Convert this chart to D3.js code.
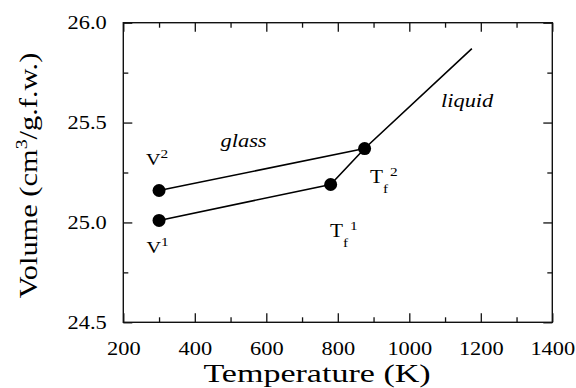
<!DOCTYPE html>
<html>
<head>
<meta charset="utf-8">
<script src="https://cdn.jsdelivr.net/npm/d3@7"></script>
<style>
  body { margin: 0; background: #fff; }
  svg { display: block; }
</style>
</head>
<body>
<svg width="576" height="388"></svg>
<script>
// values
const xTicks = [200, 400, 600, 800, 1000, 1200, 1400];
const xMinor = [300, 500, 700, 900, 1100, 1300];
const yTicks = [24.5, 25.0, 25.5, 26.0];
const yMinor = [24.75, 25.25, 25.75];

// upper glass line (V2 -> Tf2)
const tempUpper = [300, 875];
const volUpper = [25.16, 25.37];
// lower glass line + liquid line (V1 -> Tf1 -> Tf2 -> end)
const tempLower = [300, 780, 875, 1175];
const volLower = [25.01, 25.19, 25.37, 25.87];
// dots
const tempDots = [300, 300, 780, 875];
const volDots = [25.01, 25.16, 25.19, 25.37];

const FONT = "'Liberation Serif', 'Times New Roman', Times, serif";
const svg = d3.select("svg");
const pl = 123.3, pr = 552.3, pt = 22.7, pb = 322.3;
const SX = 1.18; // the original lettering is wider than Times

const x = d3.scaleLinear().domain([200, 1400]).range([pl, pr]);
const y = d3.scaleLinear().domain([24.5, 26.0]).range([pb, pt]);

// axes, ticks pointing in
const tickFont = (g) => g.selectAll("text")
    .attr("font-size", 19)
    .attr("font-family", FONT)
    .attr("fill", "#000")
    .attr("transform", `scale(${SX},1)`);

svg.append("g").attr("transform", `translate(0,${pb})`)
    .call(d3.axisBottom(x).tickValues(xTicks).tickSize(-9).tickPadding(19).tickFormat(d3.format("d")))
    .call(tickFont);
svg.append("g").attr("transform", `translate(0,${pb})`)
    .call(d3.axisBottom(x).tickValues(xMinor).tickSize(-5).tickFormat(""));
svg.append("g").attr("transform", `translate(0,${pt})`)
    .call(d3.axisTop(x).tickValues(xTicks).tickSize(-9).tickFormat(""));
svg.append("g").attr("transform", `translate(0,${pt})`)
    .call(d3.axisTop(x).tickValues(xMinor).tickSize(-5).tickFormat(""));

svg.append("g").attr("transform", `translate(${pl},0)`)
    .call(d3.axisLeft(y).tickValues(yTicks).tickSize(-9).tickPadding(14).tickFormat(d3.format(".1f")))
    .call(tickFont);
svg.append("g").attr("transform", `translate(${pl},0)`)
    .call(d3.axisLeft(y).tickValues(yMinor).tickSize(-5).tickFormat(""));
svg.append("g").attr("transform", `translate(${pr},0)`)
    .call(d3.axisRight(y).tickValues(yTicks).tickSize(-9).tickFormat(""));
svg.append("g").attr("transform", `translate(${pr},0)`)
    .call(d3.axisRight(y).tickValues(yMinor).tickSize(-5).tickFormat(""));

svg.selectAll(".domain").remove();
svg.selectAll(".tick line").attr("stroke", "#111").attr("stroke-width", 1.3);

// frame
svg.append("rect")
    .attr("x", pl).attr("y", pt)
    .attr("width", pr - pl).attr("height", pb - pt)
    .attr("fill", "none").attr("stroke", "#111").attr("stroke-width", 1.4);

// lines
const line = d3.line().x(d => x(d[0])).y(d => y(d[1]));
svg.append("path")
    .attr("d", line(d3.zip(tempUpper, volUpper)))
    .attr("fill", "none").attr("stroke", "#000").attr("stroke-width", 1.6);
svg.append("path")
    .attr("d", line(d3.zip(tempLower, volLower)))
    .attr("fill", "none").attr("stroke", "#000").attr("stroke-width", 1.6);

svg.selectAll("circle.pt")
    .data(d3.zip(tempDots, volDots))
    .join("circle")
    .attr("class", "pt")
    .attr("cx", d => x(d[0]))
    .attr("cy", d => y(d[1]))
    .attr("r", 6.5)
    .attr("fill", "#000");

// stretched text holder
const label = (tf, size, sx = SX) => svg.append("g")
    .attr("transform", `${tf} scale(${sx},1)`)
    .append("text")
    .attr("font-family", FONT)
    .attr("font-size", size)
    .attr("fill", "#000");

// axis titles
label(`translate(317,382)`, 26, 1.31)
    .attr("text-anchor", "middle")
    .text("Temperature (K)");

const yt = label(`translate(37,${(pt + pb) / 2 + 3}) rotate(-90)`, 26, 1.17)
    .attr("text-anchor", "middle");
yt.append("tspan").text("Volume (cm");
yt.append("tspan").attr("font-size", 17).attr("dy", -10).text("3");
yt.append("tspan").attr("dy", 10).text("/g.f.w.)");

// annotations
label("translate(220.5,146.7)", 19).attr("font-style", "italic").text("glass");
label("translate(441,107.3)", 19).attr("font-style", "italic").text("liquid");

const supLabel = (px, py, size, base, sub, sup) => {
    const t = label(`translate(${px},${py})`, size);
    t.append("tspan").text(base);
    if (sub) t.append("tspan").attr("font-size", 13).attr("dy", 10).text(sub);
    t.append("tspan").attr("font-size", 13)
        .attr("x", sub ? 17 : null)
        .attr("dy", sub ? -17 : -7).text(sup);
};
supLabel(146, 165, 17, "V", null, "2");
supLabel(146.5, 252.7, 17, "V", null, "1");
supLabel(370, 182.7, 18, "T", "f", "2");
supLabel(330, 237.3, 18, "T", "f", "1");
</script>
</body>
</html>
